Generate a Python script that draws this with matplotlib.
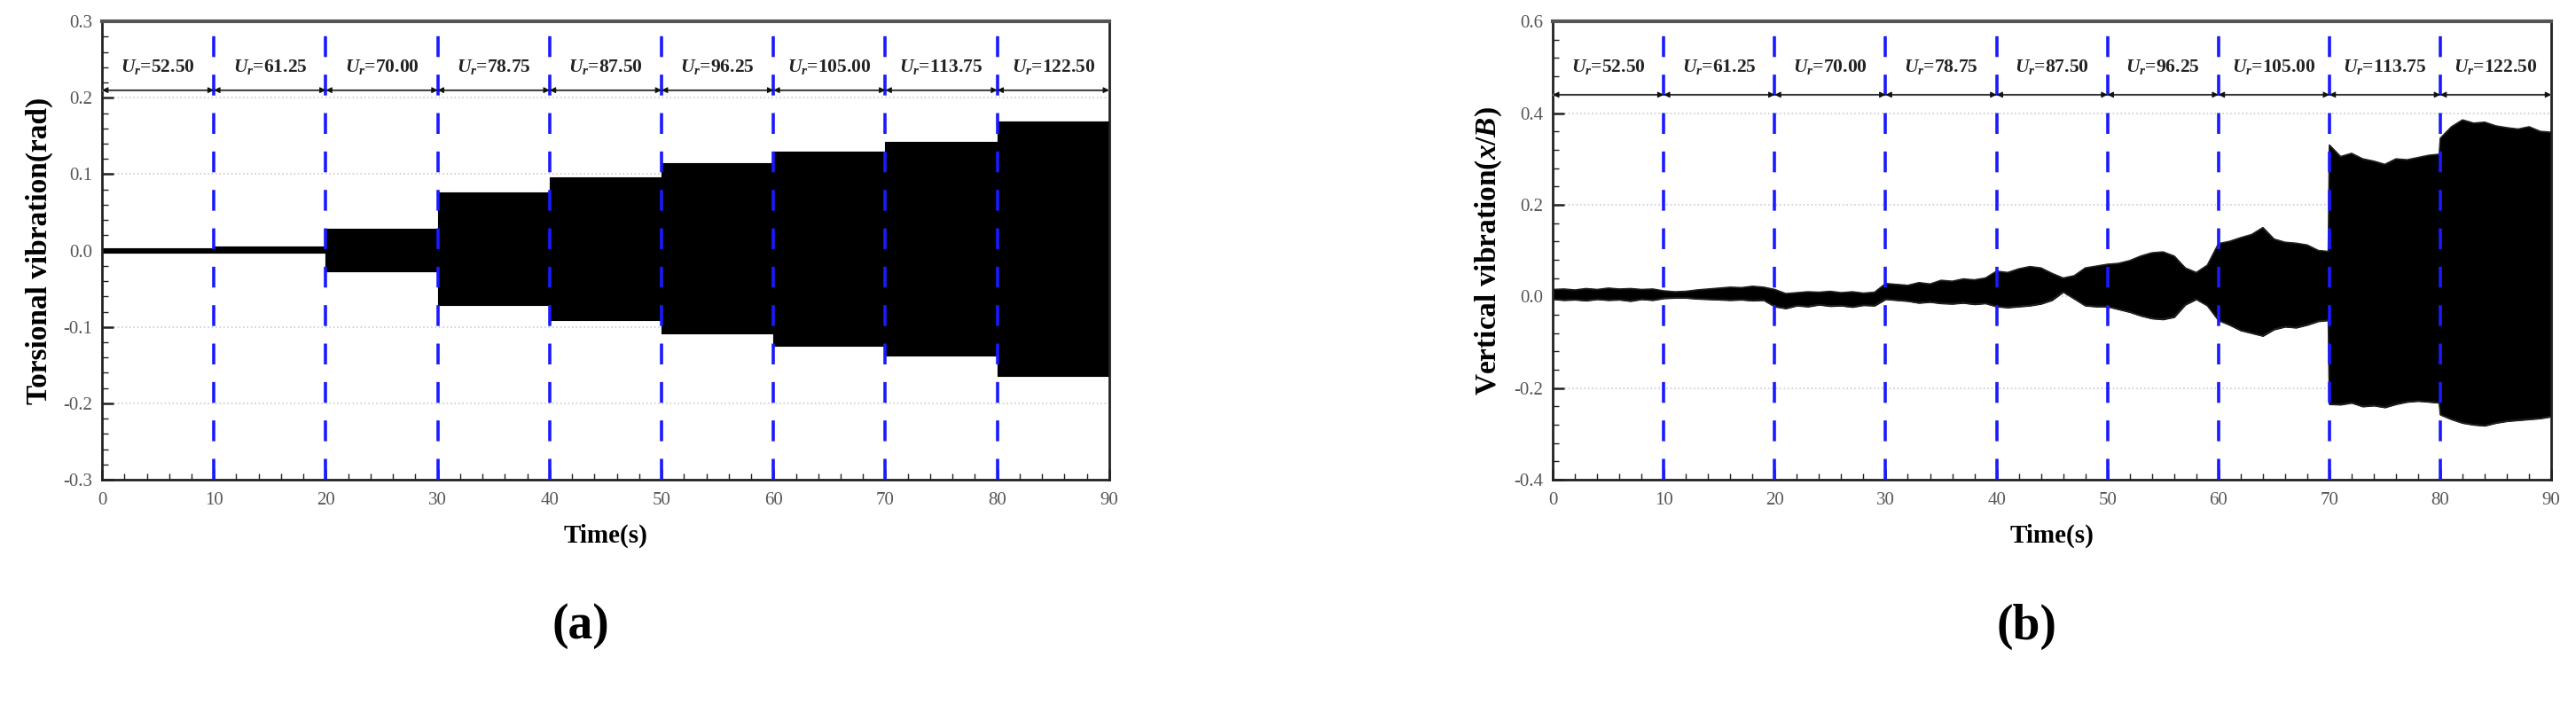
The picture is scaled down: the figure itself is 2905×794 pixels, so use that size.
import numpy as np
import matplotlib
matplotlib.use('Agg')
import matplotlib.pyplot as plt

plt.rcParams['font.family'] = ['Liberation Serif', 'DejaVu Serif']
plt.rcParams['mathtext.fontset'] = 'custom'
plt.rcParams['mathtext.rm'] = 'Liberation Serif:bold'
plt.rcParams['mathtext.it'] = 'Liberation Serif:bold:italic'

# segment boundaries and reduced wind speeds
seg_edges = [0, 10, 20, 30, 40, 50, 60, 70, 80, 90]
ur_labels = ['52.50', '61.25', '70.00', '78.75', '87.50', '96.25', '105.00', '113.75', '122.50']

# (a) torsional response envelope per segment (rad)
torsion_upper = [0.003, 0.005, 0.028, 0.076, 0.096, 0.114, 0.130, 0.142, 0.169]
torsion_lower = [-0.003, -0.003, -0.027, -0.071, -0.091, -0.109, -0.125, -0.137, -0.164]

# (b) vertical response envelope read about every second (x/B)
time_b = list(range(0, 70)) + [69.9] + list(range(70, 80)) + [79.9] + list(range(80, 91))
vert_upper = [0.015, 0.016, 0.014, 0.017, 0.015, 0.018, 0.016, 0.017, 0.015, 0.016,
              0.012, 0.010, 0.011, 0.014, 0.016, 0.018, 0.020, 0.019, 0.022, 0.020,
              0.015, 0.006, 0.008, 0.010, 0.009, 0.011, 0.008, 0.010, 0.007, 0.009,
              0.028, 0.026, 0.024, 0.030, 0.027, 0.035, 0.033, 0.038, 0.036, 0.040,
              0.055, 0.052, 0.060, 0.065, 0.062, 0.050, 0.040, 0.045, 0.062, 0.066,
              0.070, 0.072, 0.078, 0.088, 0.095, 0.097, 0.088, 0.062, 0.052, 0.068,
              0.115, 0.120, 0.128, 0.135, 0.150, 0.125, 0.118, 0.116, 0.112, 0.100, 0.098,
              0.330, 0.305, 0.312, 0.300, 0.295, 0.288, 0.300, 0.298, 0.303, 0.308, 0.310,
              0.345, 0.370, 0.385, 0.378, 0.380, 0.372, 0.368, 0.365, 0.370, 0.360, 0.358]
vert_lower = [-0.006, -0.008, -0.007, -0.009, -0.006, -0.008, -0.007, -0.010, -0.006, -0.008,
              -0.004, -0.003, -0.003, -0.005, -0.006, -0.007, -0.008, -0.007, -0.009, -0.008,
              -0.022, -0.026, -0.020, -0.022, -0.018, -0.021, -0.020, -0.023, -0.019, -0.020,
              -0.006, -0.008, -0.010, -0.014, -0.012, -0.015, -0.016, -0.014, -0.017, -0.015,
              -0.022, -0.024, -0.022, -0.020, -0.016, -0.008, 0.010, -0.005, -0.020, -0.022,
              -0.022, -0.028, -0.034, -0.042, -0.048, -0.050, -0.045, -0.018, -0.006, -0.020,
              -0.052, -0.062, -0.074, -0.080, -0.086, -0.072, -0.066, -0.068, -0.062, -0.054, -0.052,
              -0.235, -0.236, -0.232, -0.240, -0.238, -0.242, -0.235, -0.230, -0.228, -0.230, -0.232,
              -0.258, -0.268, -0.276, -0.280, -0.282, -0.276, -0.272, -0.270, -0.268, -0.266, -0.262]

fig = plt.figure(figsize=(29.05, 7.94), dpi=100)
ax_a = fig.add_axes([0.0396, 0.3186, 0.391, 0.651])
ax_b = fig.add_axes([0.6028, 0.3186, 0.3876, 0.651])


def style_axis(ax, ylim, ymajor, yminor, arrow_y, text_y, ylabel, panel):
    ax.set_xlim(0, 90)
    ax.set_ylim(*ylim)
    ax.set_xticks(np.arange(0, 91, 10))
    ax.set_xticks(np.arange(0, 91, 2), minor=True)
    ax.set_yticks(ymajor)
    ax.set_yticks(yminor, minor=True)
    ax.set_yticklabels(['%.1f' % v for v in ymajor])
    ax.tick_params(which='both', direction='in', colors='#222222', labelcolor='#555555',
                   labelsize=15)
    ax.tick_params(which='major', length=9, width=1.8)
    ax.tick_params(which='minor', length=5, width=1)
    ax.tick_params(axis='x', pad=10)
    ax.tick_params(axis='y', pad=8)
    for s in ax.spines.values():
        s.set_linewidth(2)
        s.set_color('#222222')
    ax.spines['top'].set_color('#555555')
    ax.spines['top'].set_linewidth(3)
    ax.yaxis.grid(True, which='major', linestyle=':', color='#cccccc', linewidth=1.2)
    ax.set_axisbelow(True)

    # blue separators between wind speed steps
    for x in seg_edges[1:-1]:
        ax.axvline(x, color='#1a1aff', lw=2.6, linestyle=(0, (6.5, 5.5)), zorder=4)

    # double arrows and labels
    ax.axhline(arrow_y, color='#888888', lw=1.6, zorder=3)
    for i, lab in enumerate(ur_labels):
        x0, x1 = seg_edges[i], seg_edges[i + 1]
        ax.annotate('', xy=(x1, arrow_y), xytext=(x0, arrow_y),
                    arrowprops=dict(arrowstyle='<|-|>', color='#111111', lw=0.8,
                                    mutation_scale=10, shrinkA=0, shrinkB=0), zorder=5)
        ax.text((x0 + x1) / 2, text_y, r'$U_r$=' + lab, ha='center', va='center',
                fontsize=15.5, fontweight='bold', color='#222222')

    ax.set_xlabel('Time(s)', fontsize=21, fontweight='bold', labelpad=12)
    ax.set_ylabel(ylabel, fontsize=24, fontweight='bold', labelpad=8)
    ax.text(0.475, -0.32, panel, transform=ax.transAxes, ha='center', va='center',
            fontsize=40, fontweight='bold')


# (a) torsional vibration
ua = np.append(torsion_upper, torsion_upper[-1])
la = np.append(torsion_lower, torsion_lower[-1])
ax_a.fill_between(seg_edges, la, ua, step='post', color='black', lw=0.8, zorder=2)
style_axis(ax_a, (-0.3, 0.3), np.round(np.arange(-0.3, 0.31, 0.1), 2),
           np.arange(-0.3, 0.301, 0.02), 0.21, 0.24, 'Torsional vibration(rad)', '(a)')

# (b) vertical vibration
ax_b.fill_between(time_b, vert_lower, vert_upper, color='black', lw=1, zorder=2)
ax_b.plot(time_b, vert_upper, color='#222222', lw=1.2, zorder=2)
ax_b.plot(time_b, vert_lower, color='#222222', lw=1.2, zorder=2)
style_axis(ax_b, (-0.4, 0.6), np.round(np.arange(-0.4, 0.61, 0.2), 2),
           np.arange(-0.4, 0.601, 0.04), 0.44, 0.50, r'Vertical vibration($x$/$B$)', '(b)')

plt.savefig('out.png', dpi=100)
